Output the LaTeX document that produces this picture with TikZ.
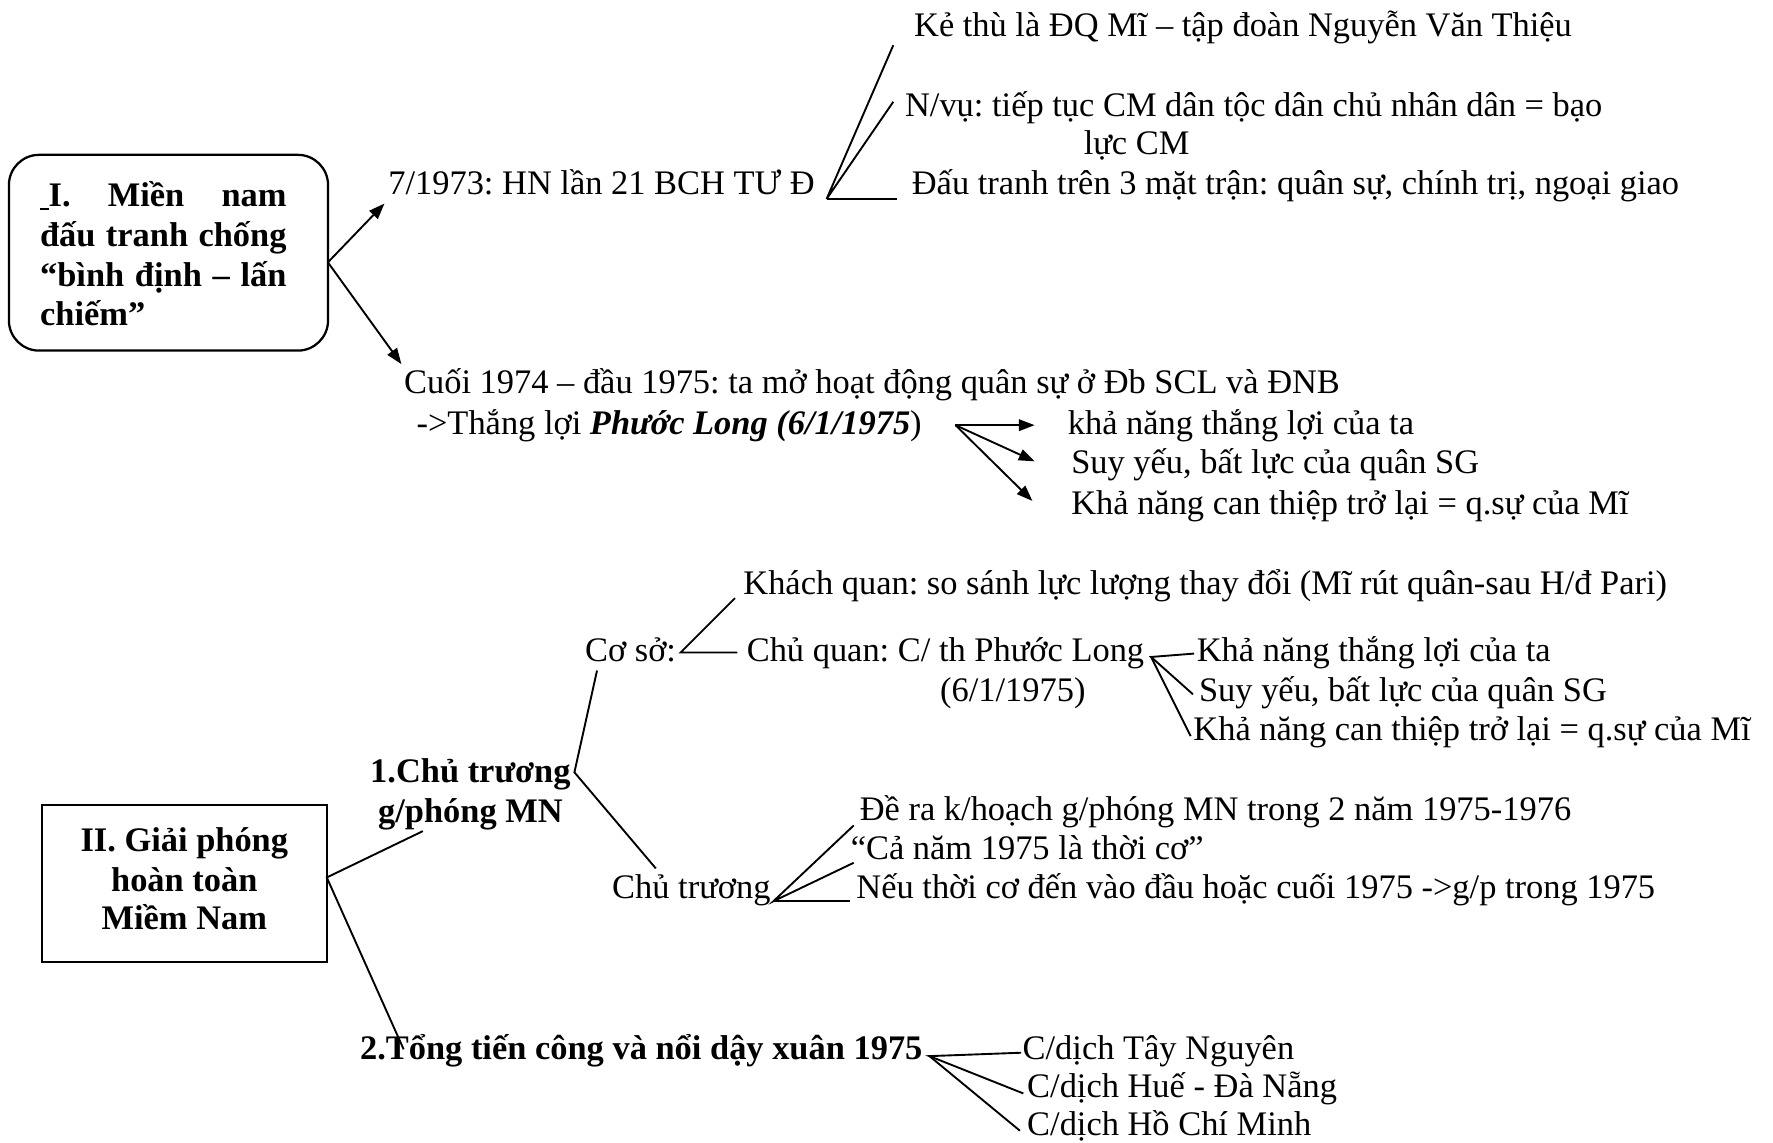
\documentclass[tikz,border=0pt]{standalone}
\usepackage{fontspec}
\setmainfont{Liberation Serif}
\usetikzlibrary{arrows.meta}
\frenchspacing
\begin{document}
\begin{tikzpicture}[x=0.45pt,y=-0.45pt,
  txt/.style={anchor=base west,inner sep=0pt,font=\fontsize{13.7}{15.75}\selectfont},
  btxt/.style={anchor=base west,inner sep=0pt,font=\fontsize{13.7}{15.75}\selectfont\bfseries},
  bctr/.style={anchor=base,inner sep=0pt,font=\fontsize{13.7}{15.75}\selectfont\bfseries},
  ln/.style={line width=0.75pt},
  arr/.style={line width=0.75pt,-{Triangle[length=6.3pt,width=4.6pt]}},
  framebox/.style={draw,line width=0.9pt,inner sep=0pt}]
\useasboundingbox (0,0) rectangle (1568,1010);

% ---------- Part I ----------
\node[framebox,rounded corners=12pt,minimum width=127pt,minimum height=77.9pt] (box1) at (149,223.5) {};
\node[btxt] (b1a) at (35,183) {\makebox[98.1pt][s]{\rule[-1.4pt]{3.4pt}{0.9pt}I. Miền nam}};
\node[btxt] (b1b) at (35,218) {\makebox[98.1pt][s]{đấu tranh chống}};
\node[btxt] (b1c) at (35,253) {\makebox[98.1pt][s]{“bình định – lấn}};
\node[btxt] (b1d) at (35,288) {chiếm”};

\node[txt] (t73) at (343,172) {7/1973: HN lần 21 BCH TƯ Đ};
\node[txt] (ke) at (808,32) {Kẻ thù là ĐQ Mĩ – tập đoàn Nguyễn Văn Thiệu};
\node[txt] (nvu) at (800,103) {N/vụ: tiếp tục CM dân tộc dân chủ nhân dân = bạo};
\node[txt] (nvu2) at (958,137) {lực CM};
\node[txt] (dau) at (806,172) {Đấu tranh trên 3 mặt trận: quân sự, chính trị, ngoại giao};

\node[txt] (cuoi) at (357,348) {Cuối 1974 – đầu 1975: ta mở hoạt động quân sự ở Đb SCL và ĐNB};
\node[txt] (thang) at (368,384) {->Thắng lợi \textbf{\textit{Phước Long (6/1/1975}})};
\node[txt] (k1) at (944,384) {khả năng thắng lợi của ta};
\node[txt] (k2) at (947,419) {Suy yếu, bất lực của quân SG};
\node[txt] (k3) at (947,455) {Khả năng can thiệp trở lại = q.sự của Mĩ};

\coordinate (o1) at (290,232);
\coordinate (a73) at (340,180);
\coordinate (acuoi) at (355,322);
\draw[arr] (o1) -- (a73);
\draw[arr] (o1) -- (acuoi);

\coordinate (v1) at (731,176);
\coordinate (eke) at (790,40);
\coordinate (envu) at (790,90);
\coordinate (edau) at (793,176);
\draw[ln] (eke) -- (v1) -- (envu);
\draw[ln] (v1) -- (edau);

\coordinate (v2) at (845,376);
\coordinate (ek1) at (915,376);
\coordinate (ek2) at (915,408);
\coordinate (ek3) at (913,443);
\draw[arr] (v2) -- (ek1);
\draw[arr] (v2) -- (ek2);
\draw[arr] (v2) -- (ek3);

% ---------- Part II ----------
\node[framebox,minimum width=113.4pt,minimum height=62.55pt] (box2) at (163,781.5) {};
\node[bctr] (b2a) at (163,753) {II. Giải phóng};
\node[bctr] (b2b) at (163,788) {hoàn toàn};
\node[bctr] (b2c) at (163,822) {Miềm Nam};

\node[bctr] (ct1) at (416,692) {1.Chủ trương};
\node[bctr] (ct2) at (416,727) {g/phóng MN};

\node[txt] (kq) at (657,526) {Khách quan: so sánh lực lượng thay đổi (Mĩ rút quân-sau H/đ Pari)};
\node[txt] (coso) at (517,585) {Cơ sở:};
\node[txt] (cq) at (660,585) {Chủ quan: C/ th Phước Long};
\node[txt] (cq2) at (831,620) {(6/1/1975)};
\node[txt] (l1) at (1058,585) {Khả năng thắng lợi của ta};
\node[txt] (l2) at (1060,620) {Suy yếu, bất lực của quân SG};
\node[txt] (l3) at (1055,655) {Khả năng can thiệp trở lại = q.sự của Mĩ};

\node[txt] (ctr) at (541,795) {Chủ trương};
\node[txt] (d1) at (760,726) {Đề ra k/hoạch g/phóng MN trong 2 năm 1975-1976};
\node[txt] (d2) at (752,760) {“Cả năm 1975 là thời cơ”};
\node[txt] (d3) at (757,795) {Nếu thời cơ đến vào đầu hoặc cuối 1975 ->g/p trong 1975};

\node[btxt] (t2) at (318,937) {2.Tổng tiến công và nổi dậy xuân 1975};
\node[txt] (c1) at (904,937) {C/dịch Tây Nguyên};
\node[txt] (c2) at (908,971) {C/dịch Huế - Đà Nẵng};
\node[txt] (c3) at (908,1004) {C/dịch Hồ Chí Minh};

\coordinate (o2) at (289,776);
\coordinate (e1ct) at (374,735);
\coordinate (e2t) at (357,928);
\draw[ln] (e1ct) -- (o2) -- (e2t);

\coordinate (v5) at (508,683);
\coordinate (ecoso) at (528,593);
\coordinate (ectr) at (580,768);
\draw[ln] (ecoso) -- (v5) -- (ectr);

\coordinate (v3) at (602,577);
\coordinate (ekq) at (650,529);
\coordinate (ecq) at (652,577);
\draw[ln] (ekq) -- (v3) -- (ecq);

\coordinate (v4) at (1018,581);
\coordinate (el1) at (1056,578);
\coordinate (el2) at (1055,614);
\coordinate (el3) at (1053,651);
\draw[ln] (el1) -- (v4) -- (el2);
\draw[ln] (v4) -- (el3);

\coordinate (v6) at (684,797);
\coordinate (ed1) at (755,730);
\coordinate (ed2) at (755,763);
\coordinate (ed3) at (752,797);
\draw[ln] (ed1) -- (v6) -- (ed2);
\draw[ln] (v6) -- (ed3);

\coordinate (v7) at (822,934);
\coordinate (ec1) at (903,931);
\coordinate (ec2) at (905,967);
\coordinate (ec3) at (902,1000);
\draw[ln] (ec1) -- (v7) -- (ec2);
\draw[ln] (v7) -- (ec3);
\end{tikzpicture}
\end{document}
